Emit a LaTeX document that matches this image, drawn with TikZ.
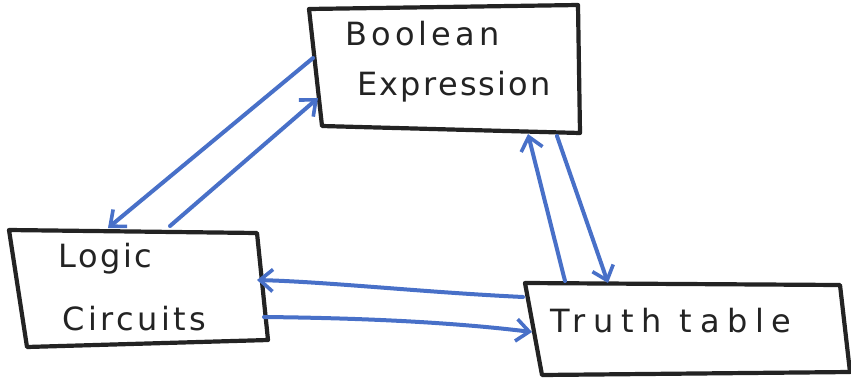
\documentclass[tikz,border=0pt]{standalone}
\usepackage{fontspec}
\setmainfont{DejaVu Sans}
\usetikzlibrary{arrows.meta}
\definecolor{penblue}{RGB}{72,112,200}
\definecolor{ink}{RGB}{35,35,35}
\begin{document}
\begin{tikzpicture}[x=1pt,y=-1pt,
  boxline/.style={draw=ink,line width=4.2pt,line join=round},
  link/.style={draw=penblue,line width=4pt,line cap=round,
    -{Straight Barb[length=13pt,width=22pt,line width=3.6pt]}},
  label/.style={font=\fontsize{32}{36}\selectfont,text=ink,inner sep=0pt,anchor=base west}]
\useasboundingbox (0,0) rectangle (851,386);
\fill[white] (0,0) rectangle (851,386);

% Boolean Expression box
\coordinate (b1) at (309,9);
\coordinate (b2) at (578,5);
\coordinate (b3) at (580,133);
\coordinate (b4) at (322,126);
\draw[boxline] (b1) -- (b2) -- (b3) -- (b4) -- cycle;
\node[label] (boolA) at (345,45) {\addfontfeature{LetterSpace=13}Boolean};
\node[label] (boolB) at (357,95) {\addfontfeature{LetterSpace=7}Expression};

% Logic Circuits box
\coordinate (l1) at (9,230);
\coordinate (l2) at (257,233);
\coordinate (l3) at (268,340);
\coordinate (l4) at (27,347);
\draw[boxline] (l1) -- (l2) -- (l3) -- (l4) -- cycle;
\node[label] (logA) at (58,267) {\addfontfeature{LetterSpace=8}Logic};
\node[label] (logB) at (62,330) {\addfontfeature{LetterSpace=11}Circuits};

% Truth table box
\coordinate (t1) at (525,283);
\coordinate (t2) at (840,285);
\coordinate (t3) at (850,372);
\coordinate (t4) at (542,375);
\draw[boxline] (t1) -- (t2) -- (t3) -- (t4) -- cycle;
\node[label] (truth) at (550,332) {\addfontfeature{LetterSpace=24}Truth table};

% connector end points on the box edges
\coordinate (bl1) at (313,58);
\coordinate (bl2) at (318,98);
\coordinate (lt1) at (108,228);
\coordinate (lt2) at (170,226);
\coordinate (bb1) at (528,134);
\coordinate (bb2) at (557,136);
\coordinate (tt1) at (565,281);
\coordinate (tt2) at (608,283);
\coordinate (lr1) at (257,280);
\coordinate (lr2) at (264,317);
\coordinate (tl1) at (523,297);
\coordinate (tl2) at (532,332);

% connectors
\draw[link] (bl1) -- (lt1);
\draw[link] (lt2) -- (bl2);
\draw[link] (tt1) -- (bb1);
\draw[link] (bb2) -- (tt2);
\draw[link] (tl1) .. controls (420,292) and (330,282) .. (lr1);
\draw[link] (lr2) .. controls (360,318) and (450,322) .. (tl2);
\end{tikzpicture}
\end{document}
